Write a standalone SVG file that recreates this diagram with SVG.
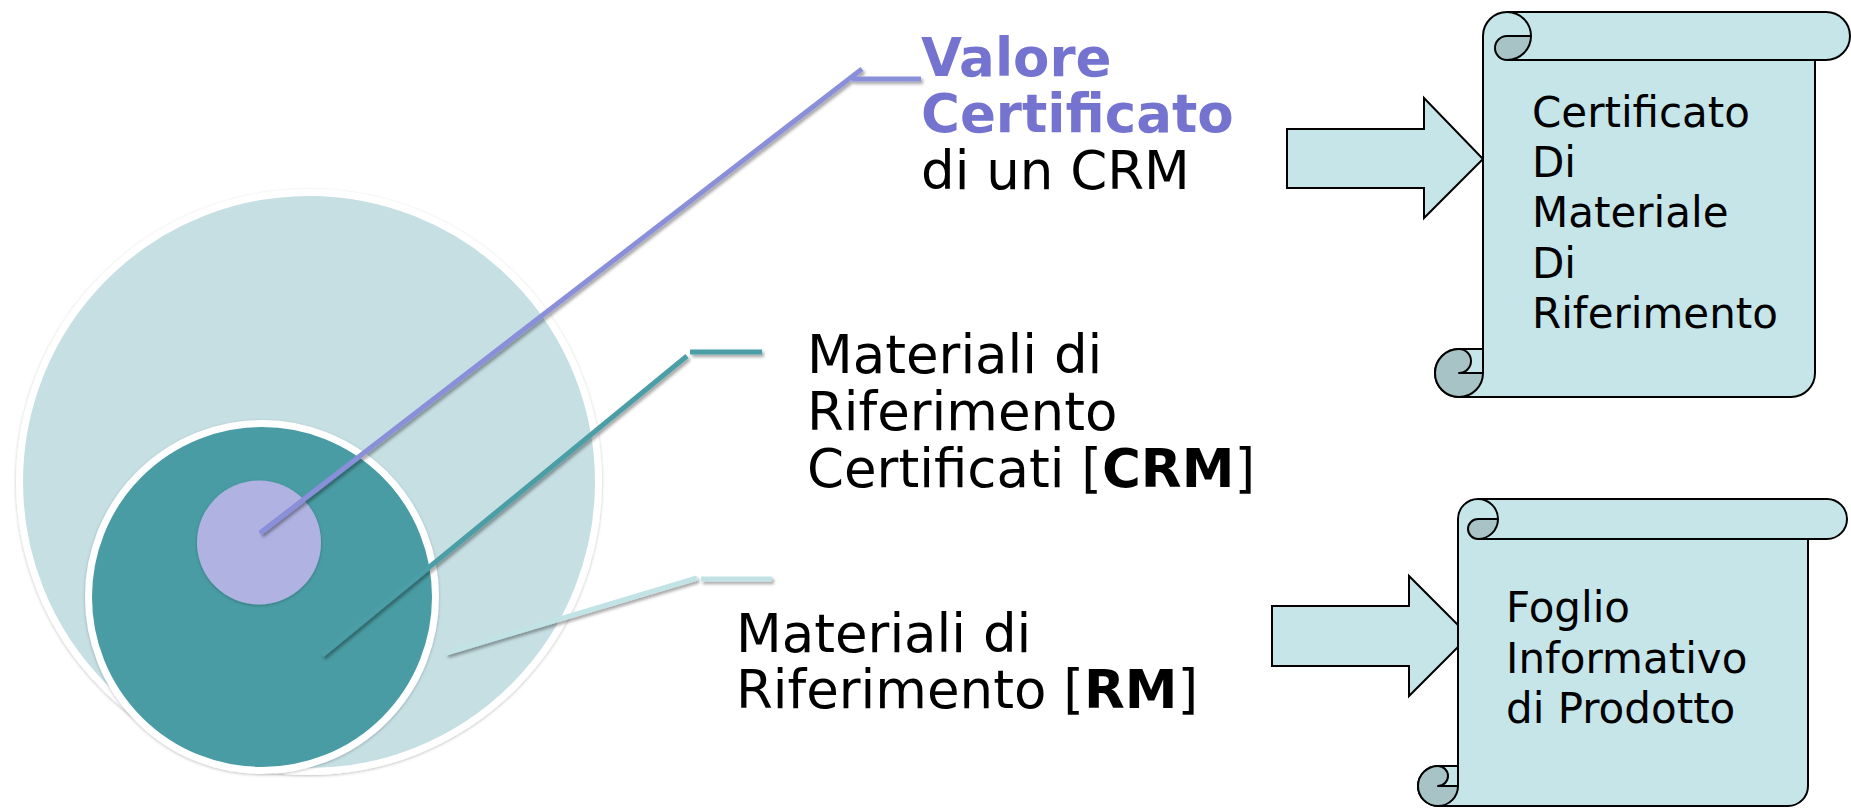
<svg xmlns="http://www.w3.org/2000/svg" width="1851" height="808" viewBox="0 0 1851 808">
<defs>
<filter id="sh" x="-20%" y="-20%" width="140%" height="140%">
<feDropShadow dx="2" dy="2.5" stdDeviation="1.5" flood-color="#000" flood-opacity="0.35"/>
</filter>
<filter id="shc" x="-10%" y="-10%" width="120%" height="120%">
<feDropShadow dx="0" dy="1" stdDeviation="1.5" flood-color="#000" flood-opacity="0.25"/>
</filter>
</defs>
<style>
.lbl{font-family:"DejaVu Sans","Liberation Sans",sans-serif;font-size:53px;fill:#000}
.ttl{font-weight:bold;fill:#7474D0}
.b{font-weight:bold}
.st{font-family:"DejaVu Sans","Liberation Sans",sans-serif;font-size:42px;fill:#000}
.sc{fill:#C5E5E8;stroke:#000;stroke-width:2;stroke-linejoin:round}
.curl{fill:#A8C3C6;stroke:#000;stroke-width:2;stroke-linejoin:round}
.ln{fill:none;stroke:#000;stroke-width:2}
.arr{fill:#C5E5E8;stroke:#000;stroke-width:2;stroke-linejoin:miter}
.cl{fill:none;stroke-width:5;stroke-linecap:butt}
</style>

<g id="circle-rm" filter="url(#shc)">
<circle cx="309" cy="482" r="289.5" fill="#C6DFE3" stroke="#fff" stroke-width="7"/>
</g>
<g id="circle-crm" filter="url(#shc)">
<circle cx="262" cy="597" r="173.5" fill="#489CA3" stroke="#fff" stroke-width="7"/>
</g>
<g id="circle-value" filter="url(#shc)">
<circle cx="259" cy="542.5" r="62" fill="#B0B3E2"/>
</g>

<g id="connectors" filter="url(#sh)">
<path class="cl" stroke="#8A8FD9" d="M260,533 L862,69 M852,79 L921,79"/>
<path class="cl" stroke="#4B9EA6" d="M322,655 L687,356 M690,352 L762,352"/>
<path class="cl" stroke="#C2E3E6" d="M446,653 L697,578 M701,579 L772,579"/>
</g>

<g id="label-valore">
<text class="lbl" x="921" y="76"><tspan class="ttl">Valore</tspan></text>
<text class="lbl" x="921" y="132"><tspan class="ttl">Certificato</tspan></text>
<text class="lbl" x="921" y="189">di un CRM</text>
</g>
<g id="label-crm">
<text class="lbl" x="807" y="373">Materiali di</text>
<text class="lbl" x="807" y="430">Riferimento</text>
<text class="lbl" x="807" y="487">Certificati [<tspan class="b">CRM</tspan>]</text>
</g>
<g id="label-rm">
<text class="lbl" x="736" y="652">Materiali di</text>
<text class="lbl" x="736" y="708">Riferimento [<tspan class="b">RM</tspan>]</text>
</g>

<g id="arrow-1">
<path class="arr" d="M1287,129 L1424,129 L1424,98 L1483,159 L1424,218 L1424,188 L1287,188 Z"/>
</g>
<g id="arrow-2">
<path class="arr" d="M1272,606 L1409,606 L1409,576 L1469,636 L1409,696 L1409,666 L1272,666 Z"/>
</g>

<g id="scroll-certificato">
<path class="sc" d="M1507,12 L1826,12 A24,24 0 0 1 1826,60 L1815,60 L1815,373 A24,24 0 0 1 1791,397 L1459,397 A24,24 0 0 1 1435,373 A24,24 0 0 1 1459,349 L1483,349 L1483,36 A24,24 0 0 1 1507,12 Z"/>
<path class="ln" d="M1507,60 L1815,60 M1507,12 A24,24 0 0 1 1531,36 M1483,349 L1483,373"/>
<path class="curl" d="M1531,36 A24,24 0 0 1 1507,60 A12,12 0 0 1 1507,36 Z"/>
<path class="curl" d="M1459,397 A24,24 0 0 1 1435,373 A24,24 0 0 1 1459,349 A12,12 0 0 1 1459,373 L1483,373 A24,24 0 0 1 1459,397 Z"/>
<text class="st" x="1532" y="127">Certificato</text>
<text class="st" x="1532" y="177">Di</text>
<text class="st" x="1532" y="227">Materiale</text>
<text class="st" x="1532" y="278">Di</text>
<text class="st" x="1532" y="328">Riferimento</text>
</g>

<g id="scroll-foglio">
<path class="sc" d="M1478,499 L1827,499 A20,20 0 0 1 1827,539 L1808,539 L1808,786 A20,20 0 0 1 1788,806 L1438,806 A20,20 0 0 1 1418,786 A20,20 0 0 1 1438,766 L1458,766 L1458,519 A20,20 0 0 1 1478,499 Z"/>
<path class="ln" d="M1478,539 L1808,539 M1478,499 A20,20 0 0 1 1498,519 M1458,766 L1458,786"/>
<path class="curl" d="M1498,519 A20,20 0 0 1 1478,539 A10,10 0 0 1 1478,519 Z"/>
<path class="curl" d="M1438,806 A20,20 0 0 1 1418,786 A20,20 0 0 1 1438,766 A10,10 0 0 1 1438,786 L1458,786 A20,20 0 0 1 1438,806 Z"/>
<text class="st" x="1506" y="622">Foglio</text>
<text class="st" x="1506" y="673">Informativo</text>
<text class="st" x="1506" y="723">di Prodotto</text>
</g>
</svg>
